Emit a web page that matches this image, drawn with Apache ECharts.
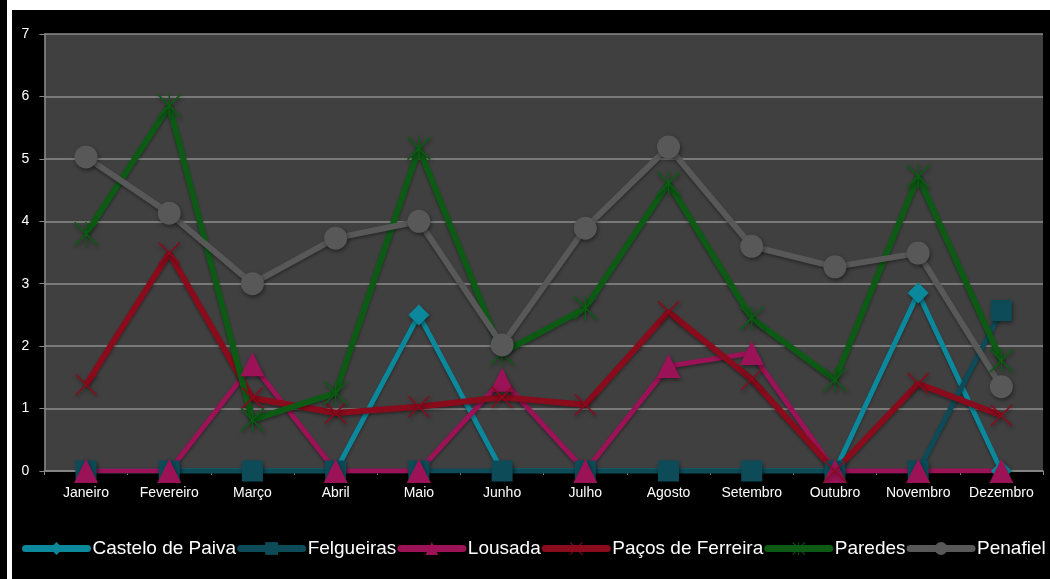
<!DOCTYPE html>
<html>
<head>
<meta charset="utf-8">
<script src="https://cdn.jsdelivr.net/npm/echarts@6/dist/echarts.min.js"></script>
<style>
  html, body { margin: 0; padding: 0; background: #ffffff; width: 1050px; height: 579px; overflow: hidden; }
  #strip { position: absolute; left: 0; top: 0; width: 7px; height: 579px; background: #000; }
  #chart { position: absolute; left: 12px; top: 10px; width: 1038px; height: 569px; background: #000; }
</style>
</head>
<body>
<div id="strip"></div>
<div id="chart"></div>
<script>
const months = ['Janeiro','Fevereiro','Março','Abril','Maio','Junho','Julho','Agosto','Setembro','Outubro','Novembro','Dezembro'];
const casteloDePaiva = [0, 0, 0, 0, 2.5, 0, 0, 0, 0, 0, 2.85, 0];
const felgueiras     = [0, 0, 0, 0, 0, 0, 0, 0, 0, 0, 0, 2.57];
const lousada        = [0, 0, 1.71, 0, 0, 1.46, 0, 1.68, 1.89, 0, 0, 0];
const pacosDeFerreira= [1.38, 3.49, 1.17, 0.93, 1.03, 1.18, 1.06, 2.55, 1.47, 0, 1.4, 0.89];
const paredes        = [3.8, 5.85, 0.82, 1.25, 5.17, 1.89, 2.61, 4.61, 2.45, 1.46, 4.72, 1.77];
const penafiel       = [5.03, 4.13, 3.0, 3.73, 4.0, 2.02, 3.89, 5.19, 3.6, 3.27, 3.49, 1.35];
const yTicks = [0, 1, 2, 3, 4, 5, 6, 7];

const crossPath = 'path://M0,1.2 L1.2,0 L12,10.8 L22.8,0 L24,1.2 L13.2,12 L24,22.8 L22.8,24 L12,13.2 L1.2,24 L0,22.8 L10.8,12 Z';
const starPath = 'path://M0,1.2 L1.2,0 L12,10.8 L22.8,0 L24,1.2 L13.2,12 L24,22.8 L22.8,24 L12,13.2 L1.2,24 L0,22.8 L10.8,12 Z M11.3,0 L12.7,0 L12.7,24 L11.3,24 Z';

function mk(name, data, color, symbol, size, lw) {
  return {
    name: name, type: 'line', data: data,
    symbol: symbol, symbolSize: size,
    lineStyle: { color: color, width: lw, shadowColor: 'rgba(0,0,0,0.35)', shadowBlur: 3, shadowOffsetY: 2 },
    itemStyle: { color: color, shadowColor: 'rgba(0,0,0,0.45)', shadowBlur: 4, shadowOffsetX: 1, shadowOffsetY: 2 },
    emphasis: { disabled: true },
    animation: false
  };
}

const chart = echarts.init(document.getElementById('chart'));
chart.setOption({
  backgroundColor: '#000000',
  animation: false,
  textStyle: { fontFamily: 'Liberation Sans, Arial, sans-serif' },
  grid: { left: 32.4, right: 7, top: 24, bottom: 108, show: true, backgroundColor: '#404040', borderWidth: 0 },
  legend: {
    left: 5, top: 524, width: 1300,
    itemWidth: 62, itemHeight: 16, itemGap: 1,
    textStyle: { color: '#ffffff', fontSize: 19, fontFamily: 'Liberation Sans, Arial, sans-serif' },
    lineStyle: { width: 7, cap: 'round' },
    data: ['Castelo de Paiva','Felgueiras','Lousada','Paços de Ferreira','Paredes','Penafiel']
  },
  xAxis: {
    type: 'category', data: months, boundaryGap: true,
    axisLine: { lineStyle: { color: '#8a8a8a', width: 1.5 } },
    axisTick: { show: true, length: 4, lineStyle: { color: '#8a8a8a' } },
    axisLabel: { color: '#ffffff', fontSize: 14, margin: 15, interval: 0 }
  },
  yAxis: {
    type: 'value', min: 0, max: 7, interval: 1,
    axisLine: { show: true, lineStyle: { color: '#8a8a8a', width: 1.5 } },
    axisTick: { show: true, length: 5, lineStyle: { color: '#8a8a8a' } },
    axisLabel: { color: '#ffffff', fontSize: 14, margin: 15, formatter: function (v) { return yTicks.indexOf(v) >= 0 ? String(v) : ''; } },
    splitLine: { lineStyle: { color: '#8c8c8c', width: 1.5 } }
  },
  series: [
    mk('Castelo de Paiva', casteloDePaiva, '#0b889b', 'diamond', 21, 5),
    mk('Felgueiras', felgueiras, '#0c4b57', 'rect', 21, 5),
    mk('Lousada', lousada, '#9b1256', 'triangle', 24, 5),
    mk('Paços de Ferreira', pacosDeFerreira, '#8a0b1c', crossPath, 22, 6),
    mk('Paredes', paredes, '#0d5a15', starPath, 24, 6),
    mk('Penafiel', penafiel, '#585858', 'circle', 23, 6)
  ]
});
</script>
</body>
</html>
